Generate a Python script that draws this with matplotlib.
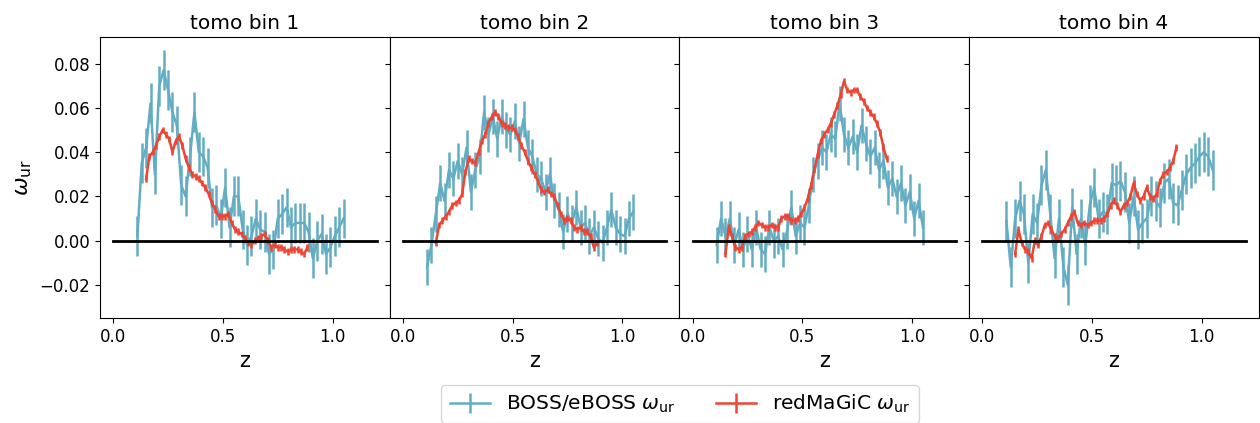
import matplotlib
matplotlib.use("Agg")
from matplotlib import pyplot as plt

# redshift grids
boss_z = [0.11, 0.13, 0.15, 0.17, 0.19, 0.21, 0.23, 0.25, 0.27, 0.29,
          0.31, 0.33, 0.35, 0.37, 0.39, 0.41, 0.43, 0.45, 0.47, 0.49,
          0.51, 0.53, 0.55, 0.57, 0.59, 0.61, 0.63, 0.65, 0.67, 0.69,
          0.71, 0.73, 0.75, 0.77, 0.79, 0.81, 0.83, 0.85, 0.87, 0.89,
          0.91, 0.93, 0.95, 0.97, 0.99, 1.01, 1.03, 1.05]

redmagic_z = [0.150, 0.165, 0.180, 0.195, 0.210, 0.225, 0.240, 0.255, 0.270, 0.285,
              0.300, 0.315, 0.330, 0.345, 0.360, 0.375, 0.390, 0.405, 0.420, 0.435,
              0.450, 0.465, 0.480, 0.495, 0.510, 0.525, 0.540, 0.555, 0.570, 0.585,
              0.600, 0.615, 0.630, 0.645, 0.660, 0.675, 0.690, 0.705, 0.720, 0.735,
              0.750, 0.765, 0.780, 0.795, 0.810, 0.825, 0.840, 0.855, 0.870, 0.885]

# BOSS/eBOSS w_ur, one list per tomographic bin
boss_bin1 = [0.002, 0.035, 0.042, 0.062, 0.030, 0.070, 0.077, 0.068, 0.058, 0.052,
             0.025, 0.020, 0.038, 0.058, 0.040, 0.038, 0.033, 0.015, 0.016, 0.010,
             0.024, 0.006, 0.020, 0.020, 0.005, -0.002, 0.002, 0.010, 0.005, 0.004,
             -0.006, -0.004, 0.010, 0.012, 0.015, 0.006, 0.008, 0.008, 0.008, 0.004,
             -0.008, 0.000, 0.003, -0.006, -0.003, 0.002, 0.006, 0.010]
boss_bin2 = [-0.012, -0.002, 0.012, 0.026, 0.018, 0.032, 0.028, 0.036, 0.030, 0.042,
             0.022, 0.032, 0.038, 0.058, 0.048, 0.056, 0.046, 0.056, 0.050, 0.048,
             0.054, 0.044, 0.055, 0.042, 0.038, 0.030, 0.028, 0.022, 0.030, 0.018,
             0.014, 0.004, 0.012, 0.008, 0.015, 0.006, 0.008, 0.002, 0.006, 0.001,
             -0.001, 0.006, 0.014, 0.006, 0.003, 0.002, 0.010, 0.013]
boss_bin3 = [-0.002, 0.010, 0.002, 0.010, -0.002, 0.005, -0.004, 0.003, -0.004, 0.006,
             -0.004, -0.006, 0.006, 0.000, 0.002, -0.004, 0.004, 0.015, 0.002, 0.008,
             0.006, 0.016, 0.030, 0.036, 0.042, 0.040, 0.048, 0.046, 0.062, 0.048,
             0.042, 0.047, 0.040, 0.052, 0.044, 0.038, 0.042, 0.032, 0.036, 0.024,
             0.028, 0.020, 0.026, 0.016, 0.022, 0.010, 0.018, 0.006]
boss_bin4 = [0.009, -0.012, 0.010, 0.018, 0.012, -0.010, 0.012, 0.008, 0.025, 0.032,
             0.012, -0.008, 0.010, -0.012, -0.020, 0.015, -0.006, 0.010, -0.002, 0.016,
             0.024, 0.010, 0.013, 0.012, 0.026, 0.025, 0.027, 0.022, 0.008, 0.020,
             0.005, 0.008, 0.010, 0.020, 0.018, 0.015, 0.026, 0.028, 0.017, 0.016,
             0.023, 0.030, 0.033, 0.035, 0.038, 0.040, 0.038, 0.032]

# redMaGiC w_ur
red_bin1 = [0.028, 0.038, 0.040, 0.043, 0.047, 0.050, 0.048, 0.046, 0.040, 0.045,
            0.047, 0.043, 0.037, 0.033, 0.030, 0.029, 0.028, 0.026, 0.024, 0.021,
            0.017, 0.014, 0.011, 0.011, 0.011, 0.012, 0.008, 0.005, 0.004, 0.003,
            0.001, -0.001, -0.002, 0.000, 0.001, 0.002, 0.003, 0.000, -0.003, -0.002,
            -0.003, -0.003, -0.004, -0.005, -0.004, -0.004, -0.004, -0.005, -0.006, -0.003]
red_bin2 = [-0.001, 0.007, 0.009, 0.011, 0.013, 0.016, 0.017, 0.018, 0.021, 0.031,
            0.037, 0.036, 0.035, 0.040, 0.045, 0.048, 0.053, 0.056, 0.058, 0.056,
            0.053, 0.052, 0.051, 0.051, 0.050, 0.047, 0.043, 0.040, 0.036, 0.033,
            0.030, 0.027, 0.023, 0.022, 0.023, 0.021, 0.020, 0.016, 0.012, 0.009,
            0.010, 0.009, 0.006, 0.005, 0.006, 0.004, 0.004, 0.002, -0.003, -0.001]
red_bin3 = [-0.006, 0.006, 0.002, -0.003, -0.004, -0.003, 0.002, 0.003, 0.004, 0.006,
            0.008, 0.007, 0.006, 0.006, 0.007, 0.006, 0.006, 0.010, 0.011, 0.011,
            0.009, 0.009, 0.010, 0.012, 0.015, 0.019, 0.025, 0.032, 0.039, 0.045,
            0.048, 0.050, 0.053, 0.057, 0.061, 0.066, 0.072, 0.068, 0.067, 0.068,
            0.068, 0.065, 0.063, 0.060, 0.058, 0.056, 0.053, 0.049, 0.042, 0.037]
red_bin4 = [-0.006, 0.005, -0.001, -0.004, -0.005, -0.008, 0.000, -0.002, 0.002, 0.007,
            0.008, 0.005, 0.002, 0.001, 0.003, 0.005, 0.008, 0.011, 0.013, 0.008,
            0.007, 0.008, 0.007, 0.008, 0.009, 0.009, 0.009, 0.010, 0.012, 0.016,
            0.018, 0.016, 0.013, 0.016, 0.017, 0.020, 0.026, 0.021, 0.018, 0.020,
            0.024, 0.020, 0.019, 0.021, 0.027, 0.030, 0.031, 0.033, 0.036, 0.042]

boss_err = [0.009, 0.008, 0.008, 0.009]
red_err = [0.0015, 0.0015, 0.0015, 0.0015]

boss = [boss_bin1, boss_bin2, boss_bin3, boss_bin4]
red = [red_bin1, red_bin2, red_bin3, red_bin4]
titles = ['tomo bin 1', 'tomo bin 2', 'tomo bin 3', 'tomo bin 4']

blue_c = '#62adc3'
red_c = '#ee4433'

fig, axes = plt.subplots(1, 4, sharey=True, figsize=(12.6, 4.23), dpi=100)
plt.subplots_adjust(left=0.0794, right=0.999, top=0.9125, bottom=0.248, wspace=0)

for i, ax in enumerate(axes):
    h1 = ax.errorbar(boss_z, boss[i], yerr=boss_err[i], color=blue_c, lw=1.8,
                     elinewidth=1.8, label=r'BOSS/eBOSS $\omega_{\rm ur}$')
    h2 = ax.errorbar(redmagic_z, red[i], yerr=red_err[i], color=red_c, lw=1.8,
                     elinewidth=1.8, label=r'redMaGiC $\omega_{\rm ur}$', zorder=3)
    ax.plot([0, 1.2], [0, 0], color='k', lw=2, zorder=4)
    ax.set_title(titles[i], fontsize=14.5)
    ax.set_xlabel('z', fontsize=15)
    ax.set_xticks([0.0, 0.5, 1.0])
    ax.tick_params(labelsize=12)

axes[0].set_ylim(-0.035, 0.092)
axes[0].set_yticks([-0.02, 0.0, 0.02, 0.04, 0.06, 0.08])
axes[0].set_ylabel(r'$\omega_{\rm ur}$', fontsize=16)

fig.legend([h1, h2], [r'BOSS/eBOSS $\omega_{\rm ur}$', r'redMaGiC $\omega_{\rm ur}$'],
           loc='upper center', bbox_to_anchor=(0.5397, 0.1136), ncol=2, fontsize=14.5)

plt.savefig('out.png', dpi=100)
